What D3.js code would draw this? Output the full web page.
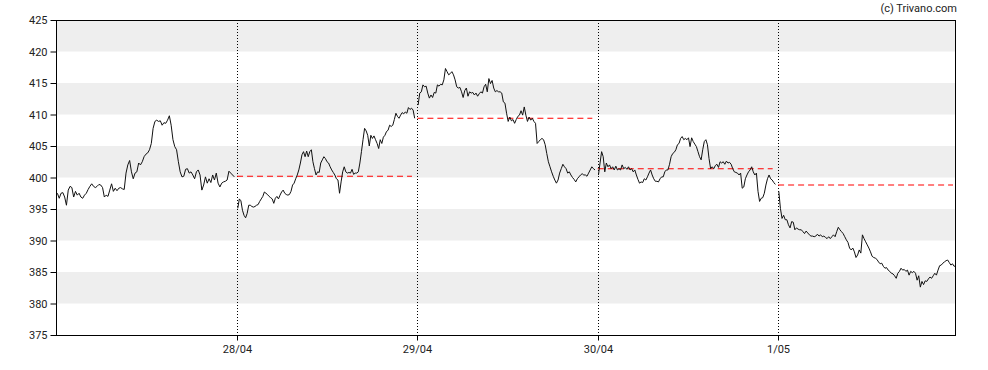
<!DOCTYPE html>
<html>
<head>
<meta charset="utf-8">
<script src="https://cdn.jsdelivr.net/npm/d3@7"></script>
<style>
  html, body { margin: 0; padding: 0; background: #fff; }
  svg { display: block; font-family: Roboto, "Liberation Sans", Arial, sans-serif; }
</style>
</head>
<body>
<svg id="chart" width="988" height="370"></svg>
<script>
// ---- data ----
const dayLabels = ['', '28/04', '29/04', '30/04', '1/05'];
const yTicks = [375, 380, 385, 390, 395, 400, 405, 410, 415, 420, 425];
const prevClose = [null, 400.2, 409.4, 401.4, 398.8];

const day1 = [397.5,396.7,397.5,397.6,396.9,395.6,398.0,398.6,398.4,396.9,397.8,397.2,397.5,396.9,396.7,397.2,397.5,398.1,398.6,399.0,
  398.6,398.4,398.6,398.9,398.8,398.4,396.9,397.2,397.0,398.0,399.0,397.8,398.3,397.9,398.3,398.4,398.2,398.1,400.7,402.0,
  402.7,400.9,399.8,400.7,400.9,402.3,402.0,402.5,403.3,403.7,403.9,404.4,405.4,407.8,408.9,409.1,408.9,409.0,408.3,408.7,
  408.6,409.1,409.8,408.3,406.0,404.9,404.4,402.5,400.9,400.1,400.2,401.3,401.4,400.7,400.9,400.4,399.8,400.9,401.2,400.4,
  398.0,398.8,400.1,399.1,399.8,399.2,400.4,399.6,400.7,399.1,398.5,399.1,399.3,399.4,399.6,401.0,400.7,400.4,400.1];

const day2 = [395.1,396.6,396.3,394.8,394.0,393.6,394.3,395.6,395.6,395.4,395.3,395.4,395.6,395.7,396.2,396.6,397.0,397.7,397.5,397.3,
  397.0,396.8,396.6,395.9,396.7,397.0,396.6,397.2,397.7,398.0,397.5,397.3,397.2,397.3,397.8,398.8,399.1,399.8,400.4,401.2,
  402.3,403.6,404.1,403.3,404.2,403.3,404.1,404.4,402.5,401.4,400.4,400.9,400.8,402.3,402.8,403.3,403.0,402.5,402.3,401.7,
  401.2,400.8,400.4,399.8,399.6,397.5,399.3,400.9,401.7,400.9,400.7,400.8,400.7,401.3,400.5,400.7,400.7,400.9,402.3,404.1,
  406.0,407.8,407.4,406.7,405.0,406.7,406.2,406.6,406.0,405.4,404.6,406.0,405.4,406.4,406.7,407.3,407.5,408.3,408.1,408.3,
  409.2,410.2,409.7,409.4,409.9,410.3,410.1,410.4,410.2,411.1,410.8,411.0,410.7,409.4];

const day3 = [411.5,413.4,413.6,414.7,414.4,414.5,413.4,412.6,413.1,412.7,413.5,413.4,414.7,414.5,414.8,414.7,415.5,417.3,416.8,416.3,
  416.5,416.8,416.3,415.5,414.4,414.2,414.3,413.6,412.7,413.8,414.2,412.9,413.6,413.4,413.5,413.1,413.4,412.9,413.3,413.6,
  413.4,414.4,414.8,413.6,415.7,414.9,415.4,414.2,413.6,413.8,413.6,413.6,413.4,412.0,411.8,410.2,408.9,409.6,409.0,409.2,
  408.6,409.2,409.7,409.9,410.6,409.9,411.2,409.9,408.9,409.6,409.1,409.4,408.9,408.6,405.4,405.7,406.0,406.2,406.0,405.2,
  403.8,402.5,401.7,400.9,400.2,399.6,399.1,399.6,400.7,401.4,402.1,401.7,401.4,400.7,400.9,400.4,400.0,399.7,399.3,399.8,
  400.1,400.4,400.6,400.4,400.4,400.2,400.7,401.2,401.7,401.4,401.2];

const day4 = [400.4,402.3,404.1,403.3,400.9,402.3,401.7,402.0,401.4,401.7,401.2,401.8,401.2,401.4,401.2,402.0,401.4,401.6,401.3,401.7,
  401.2,401.4,400.9,401.2,400.4,399.7,399.1,399.3,399.2,399.8,399.6,400.1,400.7,401.2,400.4,399.8,399.4,399.4,399.3,399.8,
  400.1,400.1,400.9,401.2,401.2,402.1,403.3,403.8,404.0,404.4,405.2,405.4,406.2,406.5,406.0,406.2,406.0,406.3,404.9,406.3,
  405.7,405.3,404.9,404.1,403.3,402.8,404.4,405.7,406.0,405.2,403.0,401.4,401.7,401.4,401.9,402.1,401.6,402.5,402.3,402.5,
  402.1,402.6,402.3,402.4,402.1,401.4,400.9,400.8,400.7,400.4,400.7,398.3,398.5,399.8,400.4,400.9,401.2,401.7,400.9,400.4,
  400.7,397.8,396.2,396.7,396.8,397.5,398.8,399.8,400.4,399.8,399.6,399.2,398.9];

const day5 = [397.8,395.1,393.5,394.0,393.3,393.3,392.5,392.0,393.0,392.9,391.7,392.0,391.8,391.7,391.7,391.4,391.1,391.5,391.2,390.9,
  390.7,390.7,390.6,390.7,391.0,390.7,390.9,390.6,390.7,390.5,390.3,390.6,390.3,390.6,390.9,390.6,391.4,392.1,391.7,391.4,
  391.1,390.6,390.1,389.7,388.8,388.5,388.8,388.2,387.3,387.7,388.5,388.0,390.9,390.3,389.8,389.3,388.8,388.2,387.5,387.3,
  387.2,387.0,386.6,386.3,386.4,385.9,385.6,385.7,385.3,385.1,384.8,384.7,384.4,384.0,384.8,385.1,385.6,385.3,385.4,385.1,
  385.3,384.5,385.1,384.9,385.1,384.8,383.7,384.4,382.6,383.5,383.0,383.6,383.5,383.9,384.2,384.0,384.4,384.8,384.5,385.3,
  386.0,386.1,386.4,386.6,386.8,386.9,386.5,386.1,386.3,385.9,386.0];

const days = [day1, day2, day3, day4, day5];

// ---- layout ----
const M = { left: 56, top: 20, right: 955, bottom: 335 };
const DAY_END = 4.981;          // last session is cut just before a full day
const SPAN = [0.004, 0.985];    // part of a day that holds trading points

const svg = d3.select('#chart');

const x = d3.scaleLinear().domain([0, DAY_END]).range([M.left + 0.7, M.right]);
const y = d3.scaleLinear().domain([375, 425]).range([M.bottom, M.top]);

// shaded bands every other 5 points
const bands = d3.range(380, 425, 10);
svg.append('g').selectAll('rect')
  .data(bands)
  .join('rect')
    .attr('x', M.left)
    .attr('width', M.right - M.left)
    .attr('y', d => y(d + 5))
    .attr('height', d => y(d) - y(d + 5))
    .attr('fill', '#eeeeee');

// day separators
svg.append('g').selectAll('line')
  .data(d3.range(1, 5))
  .join('line')
    .attr('x1', d => Math.round(x(d)) + 0.5)
    .attr('x2', d => Math.round(x(d)) + 0.5)
    .attr('y1', M.top)
    .attr('y2', M.bottom)
    .attr('stroke', '#000')
    .attr('stroke-width', 1)
    .attr('stroke-dasharray', '1,2');

// previous close reference lines (not pixel-snapped, like the original)
svg.append('g').selectAll('line')
  .data(prevClose.map((v, i) => ({ v, i })).filter(d => d.v != null))
  .join('line')
    .attr('x1', d => x(d.i))
    .attr('x2', d => x(Math.min(d.i + 0.97, DAY_END)))
    .attr('y1', d => y(d.v))
    .attr('y2', d => y(d.v))
    .attr('stroke', '#ff0000')
    .attr('stroke-width', 1.1)
    .attr('stroke-dasharray', '6,4');

// price line, one path per session
const line = d3.line().x(d => x(d.t)).y(d => y(d.v));
const sessions = days.map((vals, k) => vals.map((v, i) => ({
  t: k + SPAN[0] + (SPAN[1] - SPAN[0]) * i / (vals.length - 1),
  v
})));
svg.append('g').selectAll('path')
  .data(sessions)
  .join('path')
    .attr('d', line)
    .attr('fill', 'none')
    .attr('stroke', '#111')
    .attr('stroke-width', 1)
    .attr('stroke-linejoin', 'round');

// frame
svg.append('rect')
  .attr('x', M.left + 0.5)
  .attr('y', M.top + 0.5)
  .attr('width', M.right - M.left)
  .attr('height', M.bottom - M.top)
  .attr('fill', 'none')
  .attr('stroke', '#000')
  .attr('stroke-width', 1);

// y axis
const yAxis = d3.axisLeft(y).tickValues(yTicks).tickSize(6).tickPadding(3);
const gy = svg.append('g')
  .attr('transform', `translate(${M.left + 0.5},0)`)
  .call(yAxis);
gy.select('.domain').remove();
gy.selectAll('text').attr('font-size', 11).attr('fill', '#222').style('font-family', 'Roboto, sans-serif');

// x axis
const xAxis = d3.axisBottom(x)
  .tickValues(d3.range(1, 5))
  .tickFormat(d => dayLabels[d])
  .tickSize(5)
  .tickPadding(5);
const gx = svg.append('g')
  .attr('transform', `translate(0,${M.bottom + 0.5})`)
  .call(xAxis);
gx.select('.domain').remove();
gx.selectAll('.tick').attr('transform', d => `translate(${Math.round(x(d)) + 0.5},0)`);
gx.selectAll('text').attr('font-size', 11).attr('fill', '#222').style('font-family', 'Roboto, sans-serif');

// watermark
svg.append('text')
  .attr('x', 957)
  .attr('y', 12)
  .attr('text-anchor', 'end')
  .attr('font-size', 11)
  .attr('fill', '#222')
  .text('(c) Trivano.com');
</script>
</body>
</html>
